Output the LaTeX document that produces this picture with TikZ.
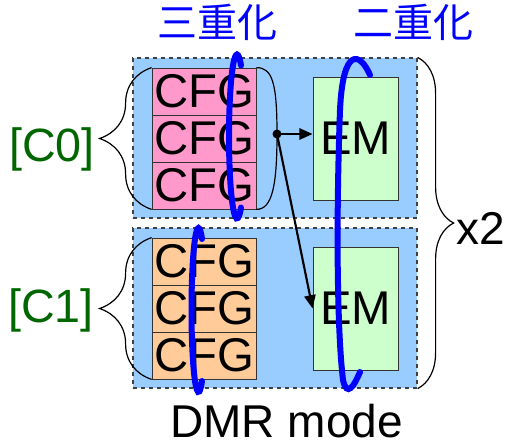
\documentclass[tikz,border=0pt]{standalone}
\usepackage{fontspec}
\setmainfont{Liberation Sans}
\newfontfamily\jpfont{Noto Sans CJK JP}
\usetikzlibrary{arrows.meta,decorations.pathreplacing}
\definecolor{panelblue}{HTML}{99CCFF}
\definecolor{cfgpink}{HTML}{FF99CC}
\definecolor{cfgorange}{HTML}{FFCC99}
\definecolor{emgreen}{HTML}{CCFFCC}
\definecolor{ctxgreen}{HTML}{006600}
\begin{document}
\begin{tikzpicture}[x=0.75pt, y=-0.75pt,
    panel/.style={rectangle, draw=black!75, dashed, line width=0.9pt, fill=panelblue, minimum width=213pt, minimum height=120pt},
    cfg/.style={rectangle, draw=black!80, line width=0.6pt, minimum width=78pt, minimum height=35.25pt, inner sep=0pt, font=\fontsize{35.5}{37}\selectfont},
    em/.style={rectangle, draw=black!80, line width=0.6pt, fill=emgreen, minimum width=63.75pt, minimum height=92.25pt, inner sep=0pt, font=\fontsize{35.5}{37}\selectfont},
    ctxname/.style={text=ctxgreen, inner sep=0pt, font=\fontsize{35}{36}\selectfont},
    dupname/.style={text=blue, inner sep=0pt, font=\jpfont\fontsize{30}{32}\selectfont},
    curly/.style={decorate, decoration={brace, amplitude=#1}, line width=0.9pt},
    arrow/.style={-{Triangle[length=10pt,width=8.5pt]}, line width=1.6pt},
    ring/.style={draw=blue, line width=4.5pt, line cap=round},
]
\useasboundingbox (0,0) rectangle (520,447);

\node[panel] (top) at (275,138) {};
\node[panel] (bot) at (275,308) {};

\node[cfg, fill=cfgpink] (c0a) at (204,91.5) {CFG};
\node[cfg, fill=cfgpink] (c0b) at (204,138.5) {CFG};
\node[cfg, fill=cfgpink] (c0c) at (204,185.5) {CFG};
\node[cfg, fill=cfgorange] (c1a) at (204,261.5) {CFG};
\node[cfg, fill=cfgorange] (c1b) at (204,308.5) {CFG};
\node[cfg, fill=cfgorange] (c1c) at (204,355.5) {CFG};

\node[em] (em0) at (355.5,138.5) {EM};
\node[em] (em1) at (355.5,308.5) {EM};

\draw[curly=39pt] (c0c.south west) -- (c0a.north west);
\draw[curly=39pt] (c1c.south west) -- (c1a.north west);
\draw[curly=27pt] (top.north east) -- (bot.south east);

\coordinate (tap) at (277,134);
\draw[line width=0.9pt] (c0c.south east) .. controls +(16,0) and +(0,51) .. (tap)
    .. controls +(0,-51) and +(16,0) .. (c0a.north east);
\fill (tap) circle[radius=4.5];
\draw[arrow] (tap) -- (tap -| em0.west);
\draw[arrow] (tap) -- (em1.west);

\node[ctxname] (ctx0) at (52,149) {[C0]};
\node[ctxname] (ctx1) at (51,310) {[C1]};
\node[inner sep=0pt, anchor=west, font=\fontsize{34.5}{36}\selectfont] (times) at (456,228) {x2};
\node[inner sep=0pt, anchor=base, font=\fontsize{34.5}{36}\selectfont] (mode) at (286.5,437) {DMR mode};

\node[dupname] (tmr) at (217,22) {三重化};
\node[dupname] (dmr) at (413,22) {二重化};

\draw[ring] (241,207.5) arc[start angle=60, end angle=300, x radius=8, y radius=82];
\draw[ring] (202,381) arc[start angle=60, end angle=300, x radius=7, y radius=82];
\draw[ring] (370,75) .. controls (360,52) and (343,46) .. (340,110)
    .. controls (336,220) and (337,330) .. (343,380)
    .. controls (347,398) and (354,386) .. (360,372);
\end{tikzpicture}
\end{document}
